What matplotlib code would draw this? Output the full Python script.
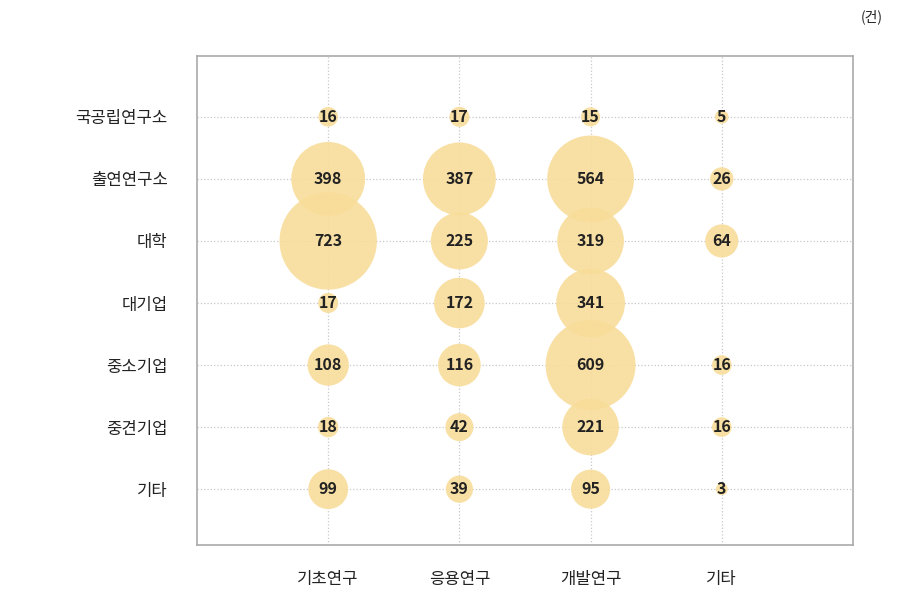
import numpy as np
import matplotlib.pyplot as plt

plt.rcParams['font.family'] = ['Noto Sans CJK KR', 'DejaVu Sans']

# -------- data --------
rows = ["국공립연구소", "출연연구소", "대학", "대기업", "중소기업", "중견기업", "기타"]
cols = ["기초연구", "응용연구", "개발연구", "기타"]

basic = [16, 398, 723, 17, 108, 18, 99]
applied = [17, 387, 225, 172, 116, 42, 39]
develop = [15, 564, 319, 341, 609, 221, 95]
other = [5, 26, 64, np.nan, 16, 16, 3]

values = np.array([basic, applied, develop, other], dtype=float)

# -------- plot --------
fig = plt.figure(figsize=(9.05, 6.11), dpi=100)
ax = fig.add_axes([0.2177, 0.108, 0.7248, 0.8003])

for ci in range(len(cols)):
    for ri in range(len(rows)):
        v = values[ci, ri]
        if np.isnan(v):
            continue
        # bubble diameter grows with sqrt of the count (plus a small minimum)
        d_pt = (6 + 3.4 * np.sqrt(v)) * 0.72
        ax.scatter(ci, ri, s=d_pt ** 2, color="#F8DC98", alpha=0.88,
                   edgecolors="none", zorder=2)
        ax.text(ci, ri, f"{int(v)}", ha="center", va="center",
                fontsize=11.5, fontweight="bold", color="#222222", zorder=3)

ax.set_xlim(-1, 4)
ax.set_ylim(6.9, -0.98)
ax.set_xticks(range(len(cols)))
ax.set_xticklabels(cols)
ax.set_yticks(range(len(rows)))
ax.set_yticklabels(rows)
ax.tick_params(length=0, labelsize=12, labelcolor="#222222")
ax.tick_params(axis="y", pad=21)
ax.tick_params(axis="x", pad=19)

ax.grid(True, linestyle=":", color="#c8c8c8", linewidth=0.9, zorder=0)
ax.set_axisbelow(True)
for sp in ax.spines.values():
    sp.set_color("#aaaaaa")
    sp.set_linewidth(1.2)

fig.text(0.975, 0.972, "(건)", ha="right", va="center", fontsize=10, color="#222222")

fig.savefig("out.png", dpi=100)
